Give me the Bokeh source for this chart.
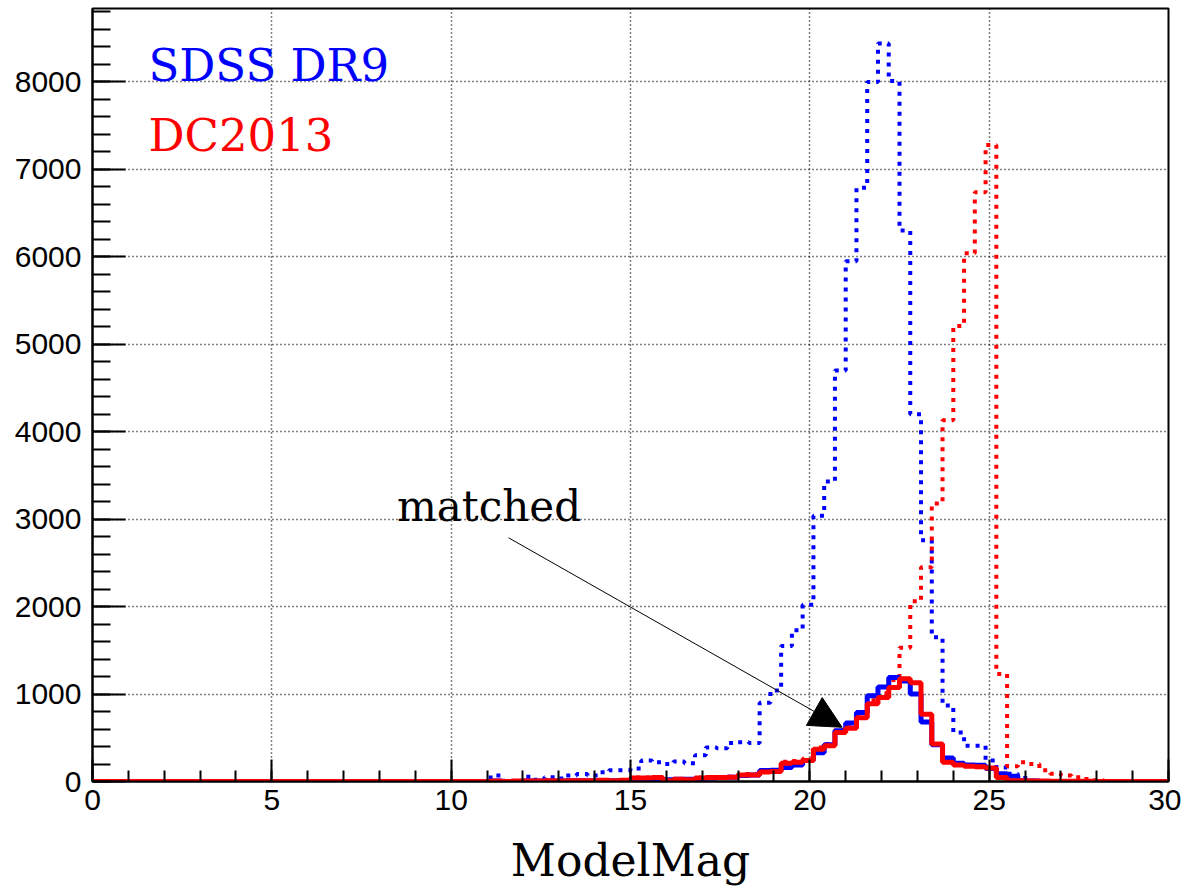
import numpy as np
from bokeh.plotting import figure
from bokeh.models import Range1d, FixedTicker, Arrow, NormalHead
from bokeh.core.properties import value
from bokeh.embed import file_html
from bokeh.resources import INLINE

# ---- data (histograms, 100 bins of width 0.3 on [0, 30]) ----
bin_width = 0.3
n_bins = 100
first_bin = 36  # first listed bin starts at 10.8

# SDSS DR9, all objects (blue dotted)
sdss_all = [0, 70, 10, 5, 55, 20, 50, 35, 70, 85, 70, 105, 130, 130,
            150, 240, 220, 200, 230, 210, 300, 390, 380, 440, 450, 440,
            900, 1040, 1550, 1730, 2020, 3040, 3430, 4700, 5950, 6790,
            8000, 8440, 8010, 6300, 4200, 2760, 1650, 870, 560, 410, 410,
            240, 160, 90, 40, 10, 5, 0, 0, 0, 0, 0, 0]
# DC2013, all objects (red dotted)
dc_all = [0, 5, 0, 5, 5, 5, 10, 5, 10, 10, 10, 15, 10, 15,
          45, 45, 50, 15, 30, 25, 45, 50, 50, 55, 85, 85,
          120, 125, 225, 235, 260, 390, 430, 590, 640, 770,
          930, 1010, 1160, 1530, 2060, 2450, 3180, 4130, 5210, 6040, 6740,
          7280, 1230, 175, 220, 200, 130, 90, 70, 50, 30, 15, 5]
# SDSS DR9, matched (blue solid)
sdss_matched = [0, 5, 0, 0, 5, 5, 5, 5, 10, 10, 5, 10, 10, 10,
                20, 30, 30, 20, 25, 25, 35, 40, 45, 50, 70, 75,
                125, 130, 160, 190, 240, 330, 420, 580, 670, 790,
                980, 1080, 1190, 1150, 1000, 680, 420, 270, 210, 190, 185,
                150, 90, 60, 10, 5, 0, 0, 0, 0, 0, 0, 0]
# DC2013, matched (red solid)
dc_matched = [0, 5, 0, 5, 5, 5, 10, 5, 10, 10, 10, 15, 10, 15,
              40, 40, 45, 10, 25, 20, 40, 45, 45, 50, 75, 75,
              110, 115, 210, 220, 240, 370, 410, 560, 610, 730,
              890, 960, 1075, 1175, 1130, 770, 430, 220, 190, 175, 170,
              155, 45, 10, 8, 5, 5, 3, 3, 2, 2, 1, 0]

x_ticks = [0, 5, 10, 15, 20, 25, 30]
y_ticks = [0, 1000, 2000, 3000, 4000, 5000, 6000, 7000, 8000]

edges = np.round(np.arange(n_bins + 1) * bin_width, 4)


def full(vals):
    arr = np.zeros(n_bins)
    arr[first_bin:first_bin + len(vals)] = vals
    return np.append(arr, arr[-1])


p = figure(frame_width=1076, frame_height=773,
           x_range=Range1d(0, 30), y_range=Range1d(0, 8840),
           output_backend="svg", toolbar_location=None,
           min_border_left=92, min_border_top=8, min_border_right=13,
           min_border_bottom=100)
p.background_fill_color = "white"
p.border_fill_color = "white"
p.outline_line_color = "black"
p.outline_line_width = 2

# grids
for g in (p.xgrid, p.ygrid):
    g.grid_line_color = "black"
    g.grid_line_dash = "1 3"
    g.grid_line_width = 1.5

# axes
p.xaxis.ticker = FixedTicker(ticks=x_ticks, minor_ticks=list(range(0, 31)))
p.yaxis.ticker = FixedTicker(ticks=y_ticks, minor_ticks=list(range(0, 8841, 200)))
for ax in (p.xaxis, p.yaxis):
    ax.axis_line_color = "black"
    ax.axis_line_width = 2
    ax.major_tick_out = 0
    ax.minor_tick_out = 0
    ax.major_tick_line_width = 2
    ax.minor_tick_line_width = 2
    ax.major_tick_line_color = "black"
    ax.minor_tick_line_color = "black"
    ax.major_label_text_font = "Liberation Sans"
    ax.major_label_text_font_size = "30px"
    ax.major_label_text_color = "black"
p.xaxis.major_tick_in = 22
p.xaxis.minor_tick_in = 11
p.yaxis.major_tick_in = 33
p.yaxis.minor_tick_in = 18
p.xaxis.major_label_standoff = 8
p.yaxis.major_label_standoff = 11

p.xaxis.axis_label = "ModelMag"
p.xaxis.axis_label_text_font = "DejaVu Serif"
p.xaxis.axis_label_text_font_size = "44px"
p.xaxis.axis_label_text_font_style = "normal"
p.xaxis.axis_label_text_color = "black"
p.xaxis.axis_label_standoff = 22

# histograms
p.step(edges, full(sdss_all), mode="after", line_color="blue",
       line_width=4, line_dash="4 6")
p.step(edges, full(dc_all), mode="after", line_color="red",
       line_width=4, line_dash="4 6")
p.step(edges, full(sdss_matched), mode="after", line_color="blue",
       line_width=5)
p.step(edges, full(dc_matched), mode="after", line_color="red",
       line_width=5)

# legend texts
p.text(x=[1.56], y=[8190], text=["SDSS DR9"], text_color="blue",
       text_font=value("DejaVu Serif"), text_font_size="45px",
       text_baseline="alphabetic", text_align="left")
p.text(x=[1.56], y=[7390], text=["DC2013"], text_color="red",
       text_font=value("DejaVu Serif"), text_font_size="45px",
       text_baseline="alphabetic", text_align="left")

# annotation
p.text(x=[8.49], y=[3150], text=["matched"], text_color="black",
       text_font=value("DejaVu Serif"), text_font_size="42px",
       text_baseline="alphabetic", text_align="left")
p.add_layout(Arrow(end=NormalHead(size=32, fill_color="black",
                                  line_color="black"),
                   x_start=11.6, y_start=2787, x_end=20.9, y_end=620,
                   line_color="black", line_width=1))

open("out.html", "w").write(file_html(p, INLINE))
